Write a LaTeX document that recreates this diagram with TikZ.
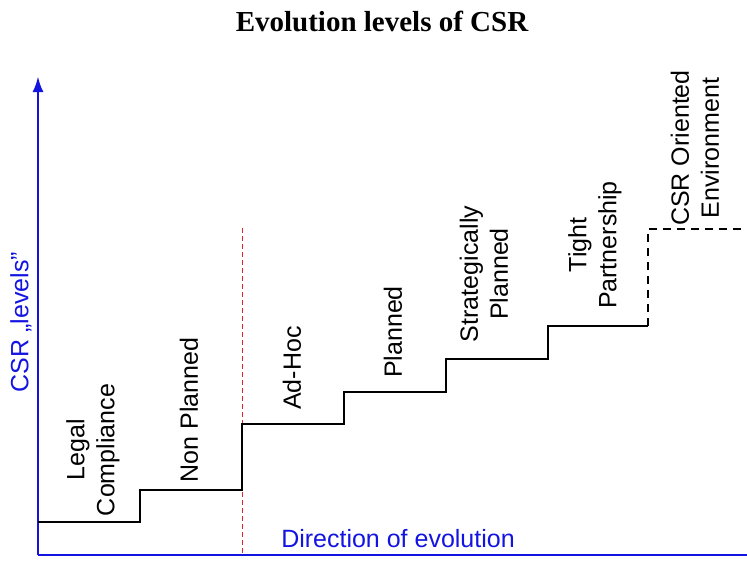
\documentclass[tikz,border=0pt]{standalone}
\usepackage{fontspec}
\setmainfont{Liberation Sans}
\newfontfamily\titlefont{Liberation Serif}
\usetikzlibrary{arrows.meta}
\definecolor{axisblue}{RGB}{20,20,225}
\definecolor{cutred}{RGB}{225,40,40}

\begin{document}
\begin{tikzpicture}[x=1pt,y=-1pt,>=Latex,font=\fontsize{25}{30}\selectfont]
\tikzset{
 levellabel/.style={rotate=90,align=center,inner sep=0pt},
 stair/.style={line width=2.5pt,black},
 axisline/.style={line width=2.8pt,draw=axisblue},
}
\useasboundingbox (0,0) rectangle (747,562);
\node[font=\titlefont\bfseries\fontsize{29}{34}\selectfont] (title) at (382,21) {Evolution levels of CSR};
% axes
\coordinate (origin) at (38,555);
\coordinate (ytop) at (38,76);
\coordinate (xend) at (747,555);
\draw[axisline,-{Latex[length=16pt,width=11pt]}] (origin) -- (ytop);
\draw[axisline] (origin) -- (xend);
\node[levellabel,text=axisblue] (ylabel) at (21,322) {CSR „levels”};
\node[text=axisblue,inner sep=0pt] (xlabel) at (398,539) {Direction of evolution};
% boundary between non planned and planned levels
\coordinate (cuttop) at (242,228);
\coordinate (cutbot) at (242,555);
\draw[cutred,line width=1pt,dash pattern=on 5pt off 3pt] (cuttop) -- (cutbot);
% the stairs
\draw[stair] (38,522) -| (140,490) -| (242,424) -| (344,392) -| (446,359) -| (548,326) -- (648,326);
\draw[stair,dash pattern=on 8pt off 6pt] (648,326) |- (747,229);
% level names
\node[levellabel] (legal) at (93,450) {Legal\\Compliance};
\node[levellabel] (nonplan) at (189,410) {Non Planned};
\node[levellabel] (adhoc) at (292,368) {Ad-Hoc};
\node[levellabel] (plan) at (393,332) {Planned};
\node[levellabel] (strat) at (484,274) {Strategically\\Planned};
\node[levellabel] (tight) at (595,245) {Tight\\Partnership};
\node[levellabel] (orient) at (695,148) {CSR Oriented\\Environment};
\end{tikzpicture}
\end{document}
